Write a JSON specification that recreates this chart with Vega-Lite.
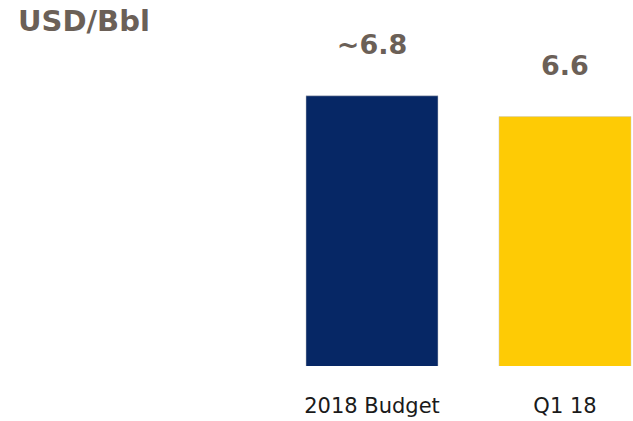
{
  "$schema": "https://vega.github.io/schema/vega-lite/v6.json",
  "width": 711,
  "height": 291,
  "autosize": {"type": "none"},
  "padding": {"left": 113, "top": 75, "right": 0, "bottom": 55},
  "background": "white",
  "title": {
    "text": "USD/Bbl",
    "anchor": "start",
    "frame": "group",
    "dx": -95,
    "offset": -5,
    "font": "DejaVu Sans",
    "fontSize": 29,
    "fontWeight": "bold",
    "color": "#6b6057"
  },
  "data": {
    "values": [
      {"period": "2018 Budget", "value": 6.8, "label": "~6.8"},
      {"period": "Q1 18", "value": 6.6, "label": "6.6"}
    ]
  },
  "encoding": {
    "x": {
      "field": "period",
      "type": "nominal",
      "sort": null,
      "scale": {"paddingInner": 0.316, "paddingOuter": 1},
      "axis": {
        "title": null,
        "domain": false,
        "ticks": false,
        "labelAngle": 0,
        "labelPadding": 29,
        "labelFont": "DejaVu Sans",
        "labelFontSize": 21,
        "labelColor": "#1a1a1a"
      }
    },
    "y": {
      "field": "value",
      "type": "quantitative",
      "scale": {"domain": [4.2, 7.0], "zero": false, "nice": false},
      "axis": null
    }
  },
  "layer": [
    {
      "mark": {"type": "bar", "clip": true, "stroke": "#c8c8c8", "strokeWidth": 0.5},
      "encoding": {
        "color": {
          "field": "period",
          "type": "nominal",
          "scale": {"domain": ["2018 Budget", "Q1 18"], "range": ["#062765", "#fecb05"]},
          "legend": null
        }
      }
    },
    {
      "mark": {
        "type": "text",
        "baseline": "alphabetic",
        "dy": -42,
        "font": "DejaVu Sans",
        "fontSize": 27,
        "fontWeight": "bold",
        "color": "#6b6057"
      },
      "encoding": {"text": {"field": "label"}}
    }
  ],
  "config": {"view": {"stroke": null}}
}
